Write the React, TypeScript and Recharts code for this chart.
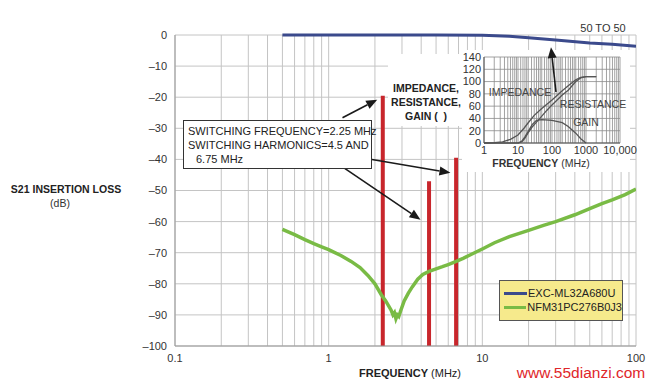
import React from 'react';
import { ComposedChart, LineChart, Line, XAxis, YAxis, CartesianGrid, ReferenceLine } from 'recharts';

const FONT = '"Liberation Sans", Arial, Helvetica, sans-serif';

// ---- main chart axes ----
const freqGrid = [0.1, 0.2, 0.3, 0.4, 0.5, 0.6, 0.7, 0.8, 0.9, 1, 2, 3, 4, 5, 6, 7, 8, 9, 10, 20, 30, 40, 50, 60, 70, 80, 90, 100];
const freqDecades = [0.1, 1, 10, 100];
const freqDecadeLabels = ['0.1', '1', '10', '100'];
const lossTicks = [-100, -90, -80, -70, -60, -50, -40, -30, -20, -10, 0];

// ---- series ----
const seriesNames = ['EXC-ML32A680U', 'NFM31PC276B0J3'];
const excFreq = [0.5, 5, 10, 15, 20, 30, 50, 70, 100];
const excLoss = [0, 0, -0.1, -0.4, -0.9, -1.6, -2.6, -3.0, -3.6];

const nfmFreq = [0.5, 0.6, 0.7, 0.8, 0.9, 1.0, 1.2, 1.4, 1.6, 1.8, 2.0, 2.2, 2.35, 2.45, 2.55, 2.62, 2.68, 2.74, 2.8, 2.86, 2.95, 3.1, 3.3, 3.5, 3.8, 4.1, 4.5, 5.0, 5.5, 6.0, 6.75, 7.5, 8.5, 10, 12, 15, 20, 25, 30, 40, 50, 60, 70, 85, 100];
const nfmLoss = [-62.5, -64.2, -65.8, -67.1, -68.1, -69.0, -70.9, -72.8, -74.8, -77.3, -80.0, -83.5, -85.5, -87.0, -88.5, -90.0, -89.3, -91.2, -90.0, -90.5, -88.5, -85.5, -83.0, -81.0, -78.5, -77.0, -76.0, -75.2, -74.5, -73.8, -72.8, -71.8, -70.5, -68.8, -66.8, -64.8, -62.8, -61.2, -60.0, -57.8, -55.8, -54.2, -53.0, -51.3, -49.5];

const switchFreq = [2.25, 4.5, 6.75];
const switchTop = [-19.5, -47, -39.5];

// annotation arrows (data units: MHz, dB)
const arrowStartF = [1.23, 1.79, 1.23];
const arrowStartV = [-26.6, -39.8, -42.4];
const arrowTipF = [2.07, 6.2, 3.96];
const arrowTipV = [-20.8, -44.3, -59.4];

// ---- inset ----
const insetGridFreq = [1, 2, 3, 4, 5, 6, 7, 8, 9, 10, 12, 14, 16, 18, 20, 25, 30, 35, 40, 45, 50, 60, 70, 80, 90, 100, 120, 140, 160, 180, 200, 250, 300, 350, 400, 450, 500, 600, 700, 800, 900, 1000, 2000, 3000, 4000, 5000, 6000, 7000, 8000, 9000, 10000];
const insetDecades = [1, 10, 100, 1000, 10000];
const insetDecadeLabels = ['1', '10', '100', '1000', '10,000'];
const insetOhmTicks = [0, 20, 40, 60, 80, 100, 120, 140];

const impFreq = [1, 2, 3.5, 6, 10, 15, 20, 30, 50, 100, 200, 300, 500, 700, 1000, 2000];
const impOhm = [0, 0.5, 2, 6, 13, 24, 33, 45, 56, 70, 85, 93, 103, 107, 108, 108];
const resFreq = [1, 5, 10, 13, 16, 20, 26, 35, 44, 70, 100, 200, 300, 500, 700, 1000, 2000];
const resOhm = [0, 0, 0, 2, 8, 17, 26, 34, 40, 53, 62, 78, 86, 100, 106, 108, 108];
const gainFreq = [10, 13, 16, 20, 26, 35, 50, 100, 200, 300, 500, 700, 1000];
const gainOhm = [0, 3, 10, 19, 30, 37, 38, 37, 33, 27, 16, 7, 0];
const insetArrowStart = { f: 131, v: 83 };
const insetArrowTip = { f: 93.4, v: 156 };

const zip = (xs: number[], ys: number[]) => xs.map((f, i) => ({ f, v: ys[i] }));

const excData = zip(excFreq, excLoss);
const nfmData = zip(nfmFreq, nfmLoss);
const barData = switchFreq.map((f, i) => [{ f, v: -100 }, { f, v: switchTop[i] }]);

const Arrow = (props: any) => {
  const { x1, y1, x2, y2 } = props;
  if ([x1, y1, x2, y2].some((n) => typeof n !== 'number' || isNaN(n))) return null;
  const dx = x2 - x1, dy = y2 - y1;
  const len = Math.sqrt(dx * dx + dy * dy) || 1;
  const ux = dx / len, uy = dy / len;
  const hl = 11, hw = 4.5;
  const bx = x2 - ux * hl, by = y2 - uy * hl;
  const pts = `${x2},${y2} ${bx - uy * hw},${by + ux * hw} ${bx + uy * hw},${by - ux * hw}`;
  return (
    <g>
      <line x1={x1} y1={y1} x2={bx} y2={by} stroke="#1a1a1a" strokeWidth={1.6} />
      <polygon points={pts} fill="#1a1a1a" />
    </g>
  );
};

const T = ({ x, y, children, style }: any) => (
  <div style={{ position: 'absolute', left: x, top: y, transform: 'translate(-50%,-50%)', whiteSpace: 'nowrap', lineHeight: 1, ...style }}>
    {children}
  </div>
);

export default function App() {
  return (
    <div style={{ position: 'absolute', left: 0, top: 0, width: 650, height: 386, background: '#fff', fontFamily: FONT, color: '#333' }}>
      <ComposedChart width={650} height={386} margin={{ top: 35, right: 14, bottom: 10, left: 0 }}>
        <CartesianGrid stroke="#c4c4c4" strokeWidth={1} />
        <XAxis
          dataKey="f"
          type="number"
          scale="log"
          domain={[0.1, 100]}
          allowDataOverflow
          ticks={freqGrid}
          interval={0}
          height={30}
          tickLine={false}
          axisLine={{ stroke: '#999' }}
          tick={{ fontSize: 11, fill: '#333' }}
          tickFormatter={(v: number) => {
            const i = freqDecades.indexOf(v);
            return i >= 0 ? freqDecadeLabels[i] : '';
          }}
        />
        <YAxis
          type="number"
          domain={[-100, 0]}
          ticks={lossTicks}
          interval={0}
          width={175}
          tickLine={false}
          axisLine={{ stroke: '#999' }}
          tick={{ fontSize: 11, fill: '#333' }}
          tickFormatter={(v: number) => (v < 0 ? '\u2013' + Math.abs(v) : String(v))}
        />
        {barData.map((d, i) => (
          <Line key={'bar' + i} data={d} dataKey="v" stroke="#c8262c" strokeWidth={4} dot={false} isAnimationActive={false} strokeLinecap="butt" />
        ))}
        <Line data={excData} dataKey="v" name={seriesNames[0]} stroke="#3b4a8c" strokeWidth={3} dot={false} isAnimationActive={false} />
        <Line data={nfmData} dataKey="v" name={seriesNames[1]} stroke="#79bb45" strokeWidth={3.5} dot={false} isAnimationActive={false} />
        {arrowStartF.map((f, i) => (
          <ReferenceLine
            key={'arr' + i}
            ifOverflow="visible"
            segment={[{ x: f, y: arrowStartV[i] }, { x: arrowTipF[i], y: arrowTipV[i] }]}
            shape={Arrow}
          />
        ))}
      </ComposedChart>

      {/* white backgrounds of pasted inset */}
      <div style={{ position: 'absolute', left: 388, top: 54, width: 74, height: 72, background: '#fff' }} />
      <div style={{ position: 'absolute', left: 462, top: 50, width: 168, height: 122, background: '#fff' }} />

      {/* annotation box */}
      <div style={{ position: 'absolute', left: 183, top: 120, width: 183, height: 44, border: '1px solid #333', background: '#fff', fontSize: 11, lineHeight: '14px', padding: '3px 0 0 4px', boxSizing: 'content-box', whiteSpace: 'nowrap', color: '#222' }}>
        <div>SWITCHING FREQUENCY=2.25 MHz</div>
        <div>SWITCHING HARMONICS=4.5 AND</div>
        <div style={{ paddingLeft: 8 }}>6.75 MHz</div>
      </div>

      <div style={{ position: 'absolute', left: 440, top: 45 }}>
        <LineChart width={200} height={130} margin={{ top: 12, right: 20, bottom: 0, left: 0 }}>
          <CartesianGrid stroke="#8c8c8c" strokeWidth={0.8} fill="#fff" />
          <XAxis
            dataKey="f"
            type="number"
            scale="log"
            domain={[1, 10000]}
            allowDataOverflow
            ticks={insetGridFreq}
            interval={0}
            height={32}
            tickLine={false}
            tickSize={0}
            tickMargin={3}
            axisLine={{ stroke: '#555' }}
            tick={{ fontSize: 11, fill: '#333' }}
            tickFormatter={(v: number) => {
              const i = insetDecades.indexOf(v);
              return i >= 0 ? insetDecadeLabels[i] : '';
            }}
          />
          <YAxis
            type="number"
            domain={[0, 140]}
            ticks={insetOhmTicks}
            interval={0}
            width={44}
            tickLine={false}
            tickSize={0}
            tickMargin={3}
            axisLine={{ stroke: '#555' }}
            tick={{ fontSize: 11, fill: '#333' }}
          />
          <Line data={zip(impFreq, impOhm)} dataKey="v" stroke="#555" strokeWidth={1.3} dot={false} isAnimationActive={false} />
          <Line data={zip(resFreq, resOhm)} dataKey="v" stroke="#555" strokeWidth={1.3} dot={false} isAnimationActive={false} />
          <Line data={zip(gainFreq, gainOhm)} dataKey="v" stroke="#555" strokeWidth={1.3} dot={false} isAnimationActive={false} />
          <ReferenceLine
            ifOverflow="visible"
            segment={[{ x: insetArrowStart.f, y: insetArrowStart.v }, { x: insetArrowTip.f, y: insetArrowTip.v }]}
            shape={Arrow}
          />
        </LineChart>
      </div>

      {/* inset labels */}
      <T x={520} y={92} style={{ fontSize: 10.5, color: '#444' }}>IMPEDANCE</T>
      <T x={593} y={104} style={{ fontSize: 10.5, color: '#444' }}>RESISTANCE</T>
      <T x={586} y={122} style={{ fontSize: 10.5, color: '#444' }}>GAIN</T>
      <T x={541} y={163} style={{ fontSize: 10.5, color: '#333' }}>
        <b>FREQUENCY</b> (MHz)
      </T>
      <div style={{ position: 'absolute', left: 386, top: 81, width: 80, textAlign: 'center', fontSize: 10.5, fontWeight: 'bold', lineHeight: '14px', color: '#222' }}>
        IMPEDANCE,<br />RESISTANCE,<br />GAIN (&nbsp;&nbsp;)
      </div>

      <T x={603} y={28} style={{ fontSize: 11, color: '#333' }}>50 TO 50</T>

      {/* axis titles */}
      <T x={410} y={373} style={{ fontSize: 11, color: '#222' }}>
        <b>FREQUENCY</b> (MHz)
      </T>
      <T x={66} y={189} style={{ fontSize: 10.5, fontWeight: 'bold', color: '#222' }}>S21 INSERTION LOSS</T>
      <T x={60} y={203} style={{ fontSize: 10.5, color: '#333' }}>(dB)</T>

      {/* legend */}
      <div style={{ position: 'absolute', left: 499, top: 280, width: 124, height: 41, background: '#f6ea8c', border: '1px solid #555', boxSizing: 'border-box', padding: '5px 0 0 4px', fontSize: 11, color: '#222' }}>
        {seriesNames.map((n, i) => (
          <div key={n} style={{ display: 'flex', alignItems: 'center', height: 14, whiteSpace: 'nowrap' }}>
            <div style={{ width: 23, height: 3, background: i === 0 ? '#3b4a8c' : '#79bb45', marginRight: 1 }} />
            <span>{n}</span>
          </div>
        ))}
      </div>

      <T x={581} y={373} style={{ fontSize: 15.5, color: '#e0262a' }}>www.55dianzi.com</T>
    </div>
  );
}
